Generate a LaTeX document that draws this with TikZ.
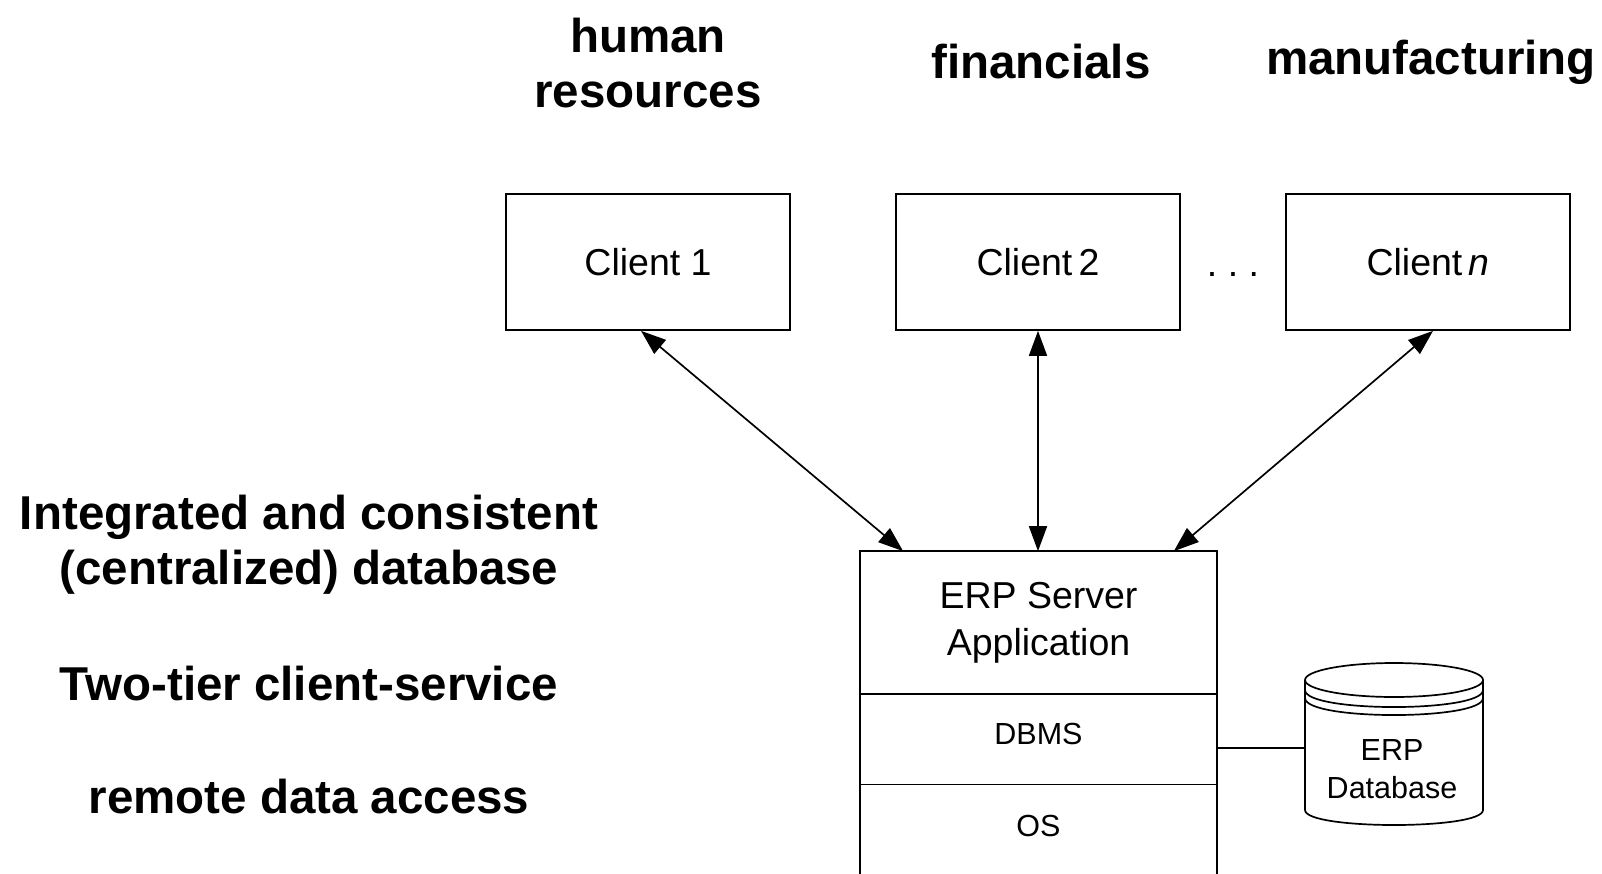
\documentclass[tikz,border=0pt]{standalone}
\usepackage{fontspec}
\setmainfont{Liberation Sans}
\usepackage{tikz}
\usetikzlibrary{arrows.meta, calc, positioning}
\def\hdfont{\fontsize{47.5}{55}\selectfont\bfseries}
\def\clfont{\fontsize{37.5}{47}\selectfont}
\def\smfont{\fontsize{30.5}{38}\selectfont}

\begin{document}
\begin{tikzpicture}[x=1pt, y=-1pt, line width=1.7pt,
  >={Triangle[length=25pt,width=18pt]},
  client/.style={draw, minimum width=284pt, minimum height=136pt, inner sep=0pt, font=\clfont},
  heading/.style={align=center, font=\hdfont},
  layer/.style={minimum width=355pt, inner sep=0pt, align=center}]
\useasboundingbox (0,0) rectangle (1602,873);
\clip (0,0) rectangle (1602,873);

% module headings
\node[heading] (hr) at (648,63) {human\\resources};
\node[heading] (fin) at (1041,62) {financials};
\node[heading] (mfg) at (1431,62) {manufacturing};

% clients
\node[client] (c1) at (648,262) {Client 1};
\node[client] (c2) at (1038,262) {Client\,2};
\node[client] (cn) at (1428,262) {Client\,\textit{n}};
\node[anchor=base, font=\clfont] (dots) at (1233,276) {.\ .\ .};

% server stack
\node[layer, minimum height=141pt, font=\clfont] (app) at (1038.5,622.5) {ERP Server\\Application};
\node[layer, minimum height=89pt, font=\smfont, text depth=10pt, below=0pt of app] (dbms) {DBMS};
\node[layer, minimum height=89pt, font=\smfont, text depth=9pt, below=0pt of dbms] (os) {OS};
\draw ([yshift=-30pt]os.south west) |- (app.north east) -- ([yshift=-30pt]os.south east);
\draw (app.south west) -- (app.south east);
\draw (dbms.south west) -- (dbms.south east);

\draw[<->] ([xshift=-7pt]c1.south) -- ([xshift=43pt]app.north west);
\draw[<->] (c2.south) -- (c2.south |- app.north);
\draw[<->] ([xshift=5pt]cn.south) -- ([xshift=-43pt]app.north east);

% database
\draw (1394,680) ellipse [x radius=89, y radius=17];
\draw (1305,690) .. controls (1305,712.7) and (1483,712.7) .. (1483,690);
\draw (1305,698) .. controls (1305,720.7) and (1483,720.7) .. (1483,698);
\draw (1305,680) -- (1305,810) .. controls (1305,830) and (1483,830) .. (1483,810) -- (1483,680);
\node[align=center, font=\smfont] (db) at (1392,769) {ERP\\Database};
\coordinate (dbport) at (1305,748);
\draw (dbport -| dbms.east) -- (dbport);

% notes
\node[heading] (integ) at (309,545) {Integrated and consistent\\(centralized) database};
\node[heading] (tier) at (309,684) {Two-tier client-service};
\node[heading] (remote) at (309,797) {remote data access};
\end{tikzpicture}
\end{document}
